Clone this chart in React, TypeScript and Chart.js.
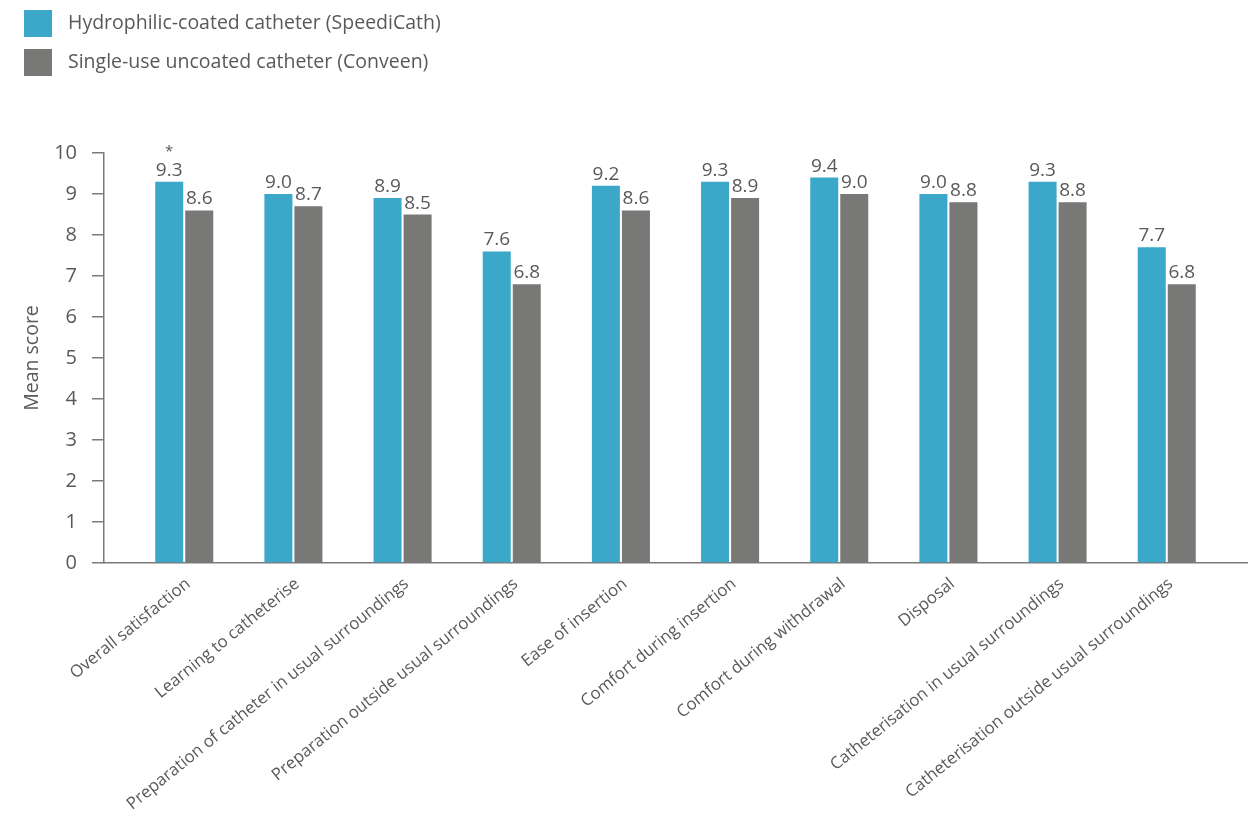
import React, { useEffect, useRef } from "react";
import { Chart, registerables } from "chart.js";

Chart.register(...registerables);

const categories = [
  "Overall satisfaction",
  "Learning to catheterise",
  "Preparation of catheter in usual surroundings",
  "Preparation outside usual surroundings",
  "Ease of insertion",
  "Comfort during insertion",
  "Comfort during withdrawal",
  "Disposal",
  "Catheterisation in usual surroundings",
  "Catheterisation outside usual surroundings",
];

const seriesNames = [
  "Hydrophilic-coated catheter (SpeediCath)",
  "Single-use uncoated catheter (Conveen)",
];

const speediCath = [9.3, 9.0, 8.9, 7.6, 9.2, 9.3, 9.4, 9.0, 9.3, 7.7];
const conveen = [8.6, 8.7, 8.5, 6.8, 8.6, 8.9, 9.0, 8.8, 8.8, 6.8];
const significance = ["*", "", "", "", "", "", "", "", "", ""];

const yTicks = [0, 1, 2, 3, 4, 5, 6, 7, 8, 9, 10];

const BLUE = "#3ba8c9";
const GRAY = "#787877";
const TEXT = "#595959";
const AXIS = "#7a7a7a";
const FONT = "'Open Sans', 'Noto Sans', sans-serif";

const W = 1255;
const H = 813;

const valueLabels = {
  id: "valueLabels",
  afterDatasetsDraw(chart: any) {
    const ctx = chart.ctx;
    ctx.save();
    ctx.fillStyle = TEXT;
    ctx.textAlign = "center";
    chart.data.datasets.forEach((ds: any, di: number) => {
      const meta = chart.getDatasetMeta(di);
      meta.data.forEach((bar: any, i: number) => {
        const v = ds.data[i].y;
        ctx.font = `19px ${FONT}`;
        ctx.textBaseline = "alphabetic";
        ctx.fillText(v.toFixed(1), bar.x, bar.y - 6);
        if (di === 0 && significance[i]) {
          ctx.font = `15px ${FONT}`;
          ctx.fillText(significance[i], bar.x, bar.y - 26);
        }
      });
    });
    ctx.restore();
  },
};

export default function App() {
  const ref = useRef<HTMLCanvasElement | null>(null);

  useEffect(() => {
    document.body.style.margin = "0";
    document.body.style.overflow = "hidden";
    const canvas = ref.current;
    if (!canvas) return;
    const chart = new Chart(canvas, {
      type: "bar",
      data: {
        datasets: [
          {
            label: seriesNames[0],
            data: speediCath.map((v, i) => ({ x: i, y: v })),
            backgroundColor: BLUE,
            categoryPercentage: 0.55,
            barPercentage: 0.933,
          },
          {
            label: seriesNames[1],
            data: conveen.map((v, i) => ({ x: i, y: v })),
            backgroundColor: GRAY,
            categoryPercentage: 0.55,
            barPercentage: 0.933,
          },
        ],
      },
      options: {
        responsive: false,
        animation: false,
        devicePixelRatio: 1,
        layout: { padding: { top: 153, left: 8, right: 8, bottom: 0 } },
        plugins: {
          legend: { display: false },
          tooltip: { enabled: false },
        },
        scales: {
          x: {
            type: "linear",
            offset: false,
            min: -0.735,
            max: 9.735,
            afterBuildTicks: (scale: any) => {
              scale.ticks = categories.map((_, i) => ({ value: i }));
            },
            afterFit: (scale: any) => {
              scale.height = 250;
            },
            grid: { display: false, offset: false },
            border: { display: true, color: AXIS, width: 1.5 },
            ticks: {
              autoSkip: false,
              minRotation: 39,
              maxRotation: 39,
              padding: 3,
              labelOffset: 4,
              color: TEXT,
              font: { family: FONT, size: 16.8 },
              callback: (v: any) => categories[v] ?? "",
            },
          },
          y: {
            min: 0,
            max: 10,
            afterBuildTicks: (scale: any) => {
              scale.ticks = yTicks.map((v) => ({ value: v }));
            },
            afterFit: (scale: any) => {
              scale.width = 96;
            },
            grid: {
              drawOnChartArea: false,
              drawTicks: true,
              tickLength: 12,
              color: AXIS,
              lineWidth: 1.5,
            },
            border: { display: true, color: AXIS, width: 1.5 },
            ticks: {
              padding: 15,
              color: TEXT,
              font: { family: FONT, size: 20 },
            },
            title: {
              display: true,
              text: "Mean score",
              color: TEXT,
              font: { family: FONT, size: 19.5 },
              padding: { top: 13, bottom: 0 },
            },
          },
        },
      },
      plugins: [valueLabels],
    } as any);
    return () => chart.destroy();
  }, []);

  return (
    <div style={{ position: "relative", width: W, height: H }}>
      <canvas
        ref={ref}
        width={W}
        height={H}
        style={{ display: "block", width: W, height: H }}
      />
      <div
        style={{
          position: "absolute",
          left: 24,
          top: 9,
          fontFamily: FONT,
          fontSize: 19.5,
          color: TEXT,
        }}
      >
        {seriesNames.map((name, i) => (
          <div
            key={name}
            style={{
              display: "flex",
              alignItems: "center",
              height: 28,
              marginBottom: 11,
              lineHeight: "28px",
            }}
          >
            <div
              style={{
                width: 28,
                height: 27,
                background: i === 0 ? BLUE : GRAY,
                marginRight: 16,
              }}
            />
            <span style={{ position: "relative", top: -1 }}>{name}</span>
          </div>
        ))}
      </div>
    </div>
  );
}
